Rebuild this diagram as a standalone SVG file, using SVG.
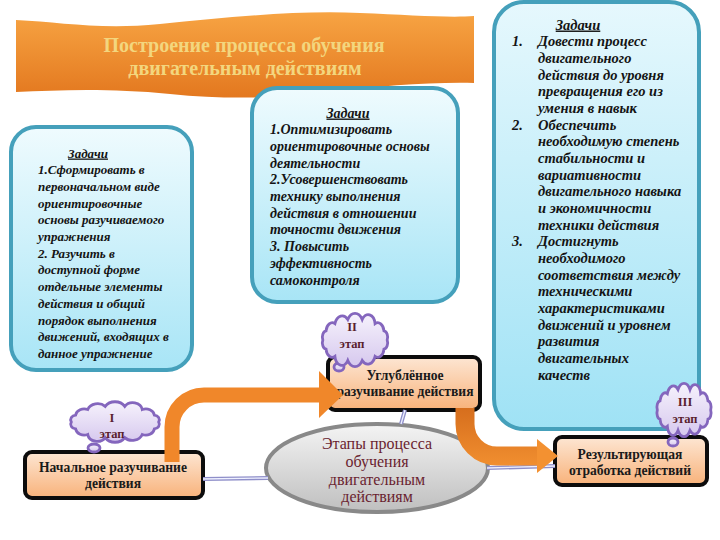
<svg xmlns="http://www.w3.org/2000/svg" xmlns:xlink="http://www.w3.org/1999/xlink" width="720" height="540" viewBox="0 0 720 540">
<defs>
<linearGradient id="gBlue" x1="0" y1="0" x2="0" y2="1">
<stop offset="0" stop-color="#effbfe"/>
<stop offset="1" stop-color="#a8e5f6"/>
</linearGradient>
<linearGradient id="gBlue2" x1="0" y1="0" x2="0" y2="1">
<stop offset="0" stop-color="#e6f8fd"/>
<stop offset="1" stop-color="#9fe2f5"/>
</linearGradient>
<linearGradient id="gTitle" x1="0" y1="0" x2="0" y2="1">
<stop offset="0" stop-color="#f7a443"/>
<stop offset="1" stop-color="#e3781f"/>
</linearGradient>
<linearGradient id="gPeach" x1="0" y1="0" x2="0" y2="1">
<stop offset="0" stop-color="#fde6d3"/>
<stop offset="1" stop-color="#f8b27a"/>
</linearGradient>
<linearGradient id="gGray" x1="0" y1="0" x2="0" y2="1">
<stop offset="0" stop-color="#f4f4f4"/>
<stop offset="1" stop-color="#bfbfbf"/>
</linearGradient>
<linearGradient id="gCloud" x1="0" y1="0" x2="0" y2="1">
<stop offset="0" stop-color="#f6f2fc"/>
<stop offset="1" stop-color="#d6c8ee"/>
</linearGradient>
<linearGradient id="gArrow2" gradientUnits="userSpaceOnUse" x1="0" y1="408" x2="0" y2="470">
<stop offset="0" stop-color="#d66e1d"/>
<stop offset="1" stop-color="#f39131"/>
</linearGradient>
<path id="cloud" vector-effect="non-scaling-stroke" d="M-46,0 A6,6 0 0 1 -41.4,-8.7 A9,9 0 0 1 -28.7,-15.6 A11,11 0 0 1 -10.3,-19.5 A12,12 0 0 1 10.3,-19.5 A10,10 0 0 1 28.7,-15.6 A9,9 0 0 1 41.4,-8.7 A6,6 0 0 1 46,0 A6,6 0 0 1 41.4,8.7 A9,9 0 0 1 28.7,15.6 A11,11 0 0 1 10.3,19.5 A12,12 0 0 1 -10.3,19.5 A10,10 0 0 1 -28.7,15.6 A9,9 0 0 1 -41.4,8.7 A6,6 0 0 1 -46,0 Z"/>
<style>
.task{fill:url(#gBlue);stroke:#45a0bb;stroke-width:4}
.task2{fill:url(#gBlue2);stroke:#45a0bb;stroke-width:4}
.it{font-family:"Liberation Serif","DejaVu Serif",serif;font-style:italic;font-weight:bold;font-size:13px;fill:#141414}
.it14{font-size:14px}
.it145{font-size:14.5px}
.hd{text-anchor:middle;text-decoration:underline}
.stage{fill:url(#gPeach);stroke:#0c0c0c;stroke-width:4}
.st{font-family:"Liberation Serif","DejaVu Serif",serif;font-weight:bold;font-size:13.6px;fill:#1a1a1a;text-anchor:middle}
.cl{fill:url(#gCloud);stroke:#8466bd;stroke-width:2.8}
.ct{font-family:"Liberation Serif","DejaVu Serif",serif;font-weight:bold;font-size:12.5px;fill:#5a1f2f;text-anchor:middle}
.et{font-family:"Liberation Serif","DejaVu Serif",serif;font-size:16px;fill:#6a1f30;text-anchor:middle}
.tt{font-family:"Liberation Serif","DejaVu Serif",serif;font-weight:bold;font-size:20px;fill:#f3d67e;text-anchor:middle}
.lnk{stroke:#8f8fc9;stroke-width:4;fill:none}
.lnki{stroke:#eef0ff;stroke-width:1.3;fill:none}
.arr{fill:none;stroke:#f0872a}
</style>
</defs>
<rect width="720" height="540" fill="#ffffff"/>

<g id="title">
<path d="M16,20 C60,22 100,30 160,24 C230,17 300,10 360,13 C410,15 450,18 474,16 L474,83 C430,82 380,86 330,92 C280,98 230,100 170,94 C110,88 60,90 16,92 Z" fill="url(#gTitle)"/>
<text class="tt" x="244" y="52">Построение процесса обучения</text>
<text class="tt" x="245" y="75">двигательным действиям</text>
</g>

<g id="tasks1">
<rect class="task" x="11" y="127" width="181" height="243" rx="25"/>
<text class="it hd" x="88" y="157.5">Задачи</text>
<text class="it" x="38" y="174.2">1.Сформировать  в</text>
<text class="it" x="38" y="190.9">первоначальном виде</text>
<text class="it" x="38" y="207.6">ориентировочные</text>
<text class="it" x="38" y="224.3">основы разучиваемого</text>
<text class="it" x="38" y="241">упражнения</text>
<text class="it" x="38" y="257.7">2. Разучить в</text>
<text class="it" x="38" y="274.4">доступной форме</text>
<text class="it" x="38" y="291.1">отдельные элементы</text>
<text class="it" x="38" y="307.8">действия и общий</text>
<text class="it" x="38" y="324.5">порядок выполнения</text>
<text class="it" x="38" y="341.2">движений, входящих в</text>
<text class="it" x="38" y="357.9">данное упражнение</text>
</g>

<g id="tasks2">
<rect class="task" x="252" y="88" width="206" height="214" rx="25"/>
<text class="it it14 hd" x="348" y="117.5">Задачи</text>
<text class="it it14" x="270" y="134.2">1.Оптимизировать</text>
<text class="it it14" x="270" y="150.9">ориентировочные основы</text>
<text class="it it14" x="270" y="167.6">деятельности</text>
<text class="it it14" x="270" y="184.3">2.Усовершенствовать</text>
<text class="it it14" x="270" y="201">технику выполнения</text>
<text class="it it14" x="270" y="217.7">действия в отношении</text>
<text class="it it14" x="270" y="234.4">точности движения</text>
<text class="it it14" x="270" y="251.1">3. Повысить</text>
<text class="it it14" x="270" y="267.8">эффективность</text>
<text class="it it14" x="270" y="284.5">самоконтроля</text>
</g>

<g id="tasks3">
<rect class="task2" x="494" y="2" width="205" height="427" rx="30"/>
<text class="it it145 hd" x="578" y="29.5">Задачи</text>
<text class="it it145" x="512" y="46.2">1.</text>
<text class="it it145" x="538" y="46.2">Довести процесс</text>
<text class="it it145" x="538" y="62.8">двигательного</text>
<text class="it it145" x="538" y="79.5">действия до уровня</text>
<text class="it it145" x="538" y="96.2">превращения его из</text>
<text class="it it145" x="538" y="112.8">умения в навык</text>
<text class="it it145" x="512" y="129.5">2.</text>
<text class="it it145" x="538" y="129.5">Обеспечить</text>
<text class="it it145" x="538" y="146.2">необходимую степень</text>
<text class="it it145" x="538" y="162.8">стабильности и</text>
<text class="it it145" x="538" y="179.5">вариативности</text>
<text class="it it145" x="538" y="196.2">двигательного навыка</text>
<text class="it it145" x="538" y="212.8">и экономичности</text>
<text class="it it145" x="538" y="229.5">техники действия</text>
<text class="it it145" x="512" y="246.2">3.</text>
<text class="it it145" x="538" y="246.2">Достигнуть</text>
<text class="it it145" x="538" y="262.8">необходимого</text>
<text class="it it145" x="538" y="279.5">соответствия между</text>
<text class="it it145" x="538" y="296.2">техническими</text>
<text class="it it145" x="538" y="312.8">характеристиками</text>
<text class="it it145" x="538" y="329.5">движений и уровнем</text>
<text class="it it145" x="538" y="346.2">развития</text>
<text class="it it145" x="538" y="362.8">двигательных</text>
<text class="it it145" x="538" y="379.5">качеств</text>
</g>

<g id="center">
<ellipse cx="377" cy="468" rx="111" ry="44" fill="url(#gGray)" stroke="#898989" stroke-width="4"/>
<text class="et" x="377" y="449">Этапы процесса</text>
<text class="et" x="377" y="467">обучения</text>
<text class="et" x="377" y="485">двигательным</text>
<text class="et" x="377" y="502">действиям</text>
</g>

<g id="stage1">
<rect class="stage" x="25" y="452" width="178" height="46" rx="7"/>
<text class="st" x="113" y="472">Начальное разучивание</text>
<text class="st" x="113" y="488">действия</text>
</g>

<g id="stage2">
<rect class="stage" x="328" y="357" width="152" height="53" rx="7"/>
<text class="st" x="405" y="380">Углублённое</text>
<text class="st" x="405" y="396">разучивание действия</text>
</g>

<g id="stage3">
<rect class="stage" x="555" y="437" width="152" height="48" rx="7"/>
<text class="st" x="630" y="459">Результирующая</text>
<text class="st" x="630" y="475">отработка действий</text>
</g>

<g id="connectors">
<path class="lnk" d="M203,479 L268,478"/>
<path class="lnki" d="M203,479 L268,478"/>
<path class="lnk" d="M401,424 L405,410"/>
<path class="lnki" d="M401,424 L405,410"/>
<path class="lnk" d="M487,468 L555,466"/>
<path class="lnki" d="M487,468 L555,466"/>
<path class="arr" stroke-width="15" d="M172,462 V427 A32,32 0 0 1 204,395 H322"/>
<polygon points="319,371 343,395 319,418" fill="#f0872a"/>
<path fill="none" stroke="url(#gArrow2)" stroke-width="19" d="M465,408 V424 A32,32 0 0 0 497,456 H540"/>
<polygon points="537,439 558,456 537,473" fill="#f39131"/>
</g>

<g id="cloud1">
<ellipse class="cl" cx="94" cy="448" rx="6" ry="4"/>
<use href="#cloud" class="cl" transform="translate(115,422) scale(0.95,0.8)"/>
<text class="ct" x="112" y="422">I</text>
<text class="ct" x="112" y="438">этап</text>
</g>

<g id="cloud2">
<ellipse class="cl" cx="339" cy="367" rx="5" ry="4"/>
<use href="#cloud" class="cl" transform="translate(355,340) scale(0.7,1.05)"/>
<text class="ct" x="352" y="331">II</text>
<text class="ct" x="352" y="348">этап</text>
</g>

<g id="cloud3">
<ellipse class="cl" cx="673" cy="442" rx="5" ry="4"/>
<use href="#cloud" class="cl" transform="translate(684,410) scale(0.58,1.05)"/>
<text class="ct" x="685" y="406">III</text>
<text class="ct" x="685" y="423">этап</text>
</g>
</svg>
